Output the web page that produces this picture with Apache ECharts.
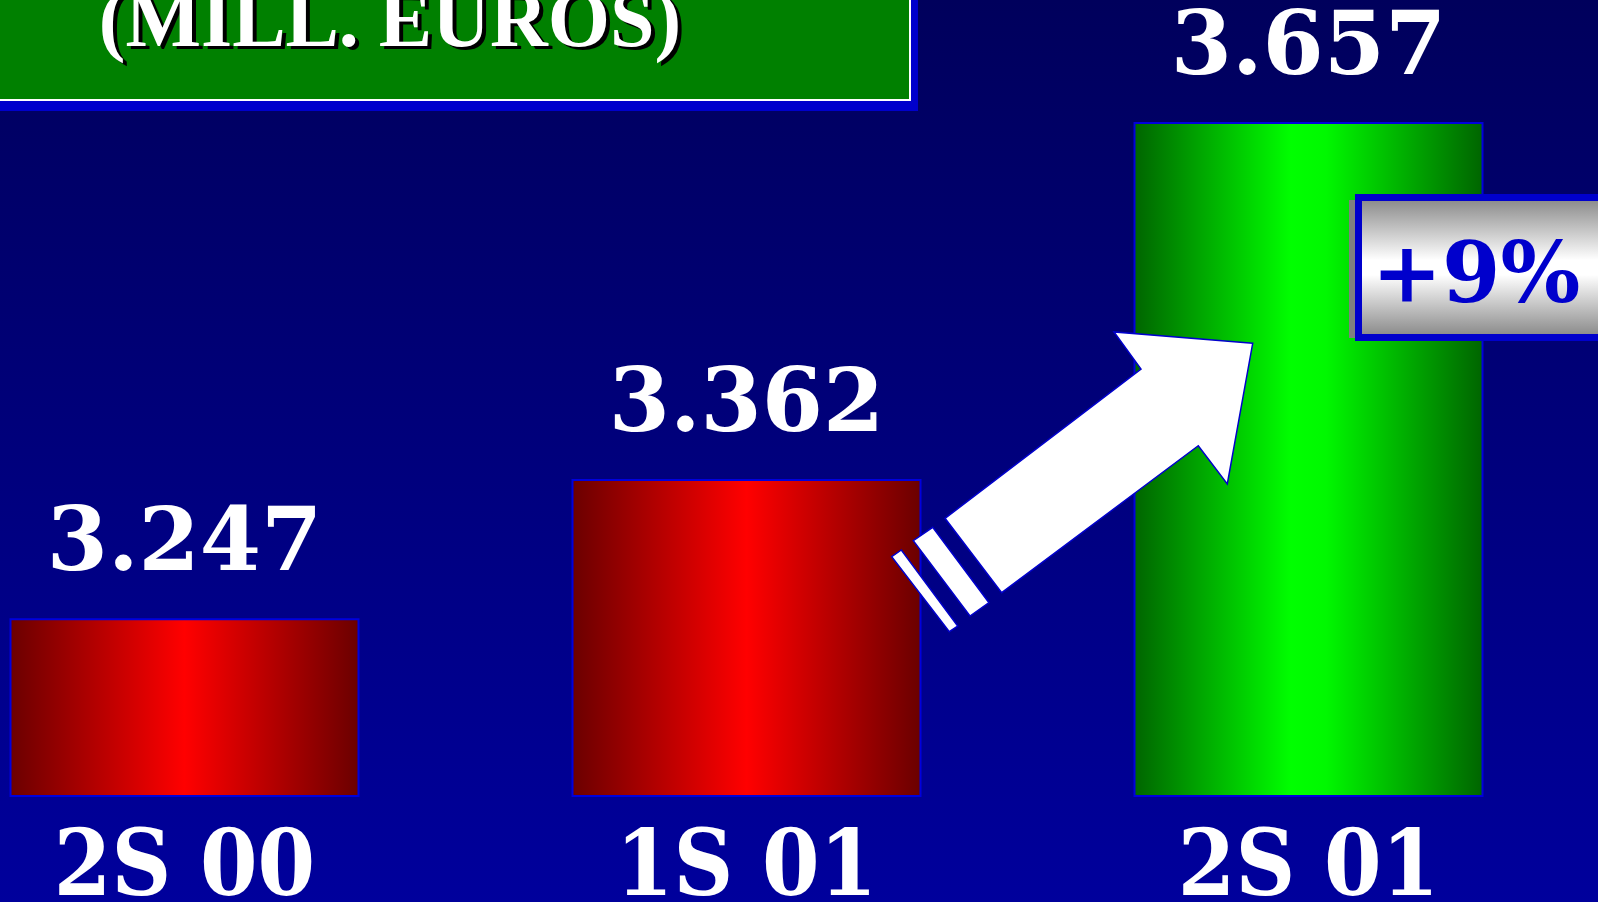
<!DOCTYPE html>
<html>
<head>
<meta charset="utf-8">
<script src="https://cdn.jsdelivr.net/npm/echarts@6/dist/echarts.min.js"></script>
<style>html,body{margin:0;padding:0;overflow:hidden;}#c{width:1598px;height:902px;}</style>
</head>
<body>
<div id="c"></div>
<script>
// ---- data ----
const categories = ['2S 00', '1S 01', '2S 01'];
const values = [3.247, 3.362, 3.657];
const barKinds = ['red', 'red', 'green'];
const titleText = '(MILL. EUROS)';
const changeText = '+9%';

// ---- styles ----
function hGrad(stops) {
  return new echarts.graphic.LinearGradient(0, 0, 1, 0, stops);
}
const fills = {
  red: hGrad([
    { offset: 0, color: '#6a0000' }, { offset: 0.5, color: '#ff0000' }, { offset: 1, color: '#6a0000' }
  ]),
  green: hGrad([
    { offset: 0, color: '#006400' }, { offset: 0.45, color: '#00ff00' },
    { offset: 0.55, color: '#00f800' }, { offset: 1, color: '#006400' }
  ])
};

const chart = echarts.init(document.getElementById('c'), null, { renderer: 'canvas' });

const option = {
  animation: false,
  backgroundColor: {
    type: 'linear', x: 0, y: 0, x2: 0, y2: 1,
    colorStops: [{ offset: 0, color: '#00005c' }, { offset: 1, color: '#00009c' }]
  },
  grid: { left: -96.5, right: 8.5, top: 70, bottom: 106, containLabel: false, outerBoundsMode: 'none' },
  xAxis: {
    type: 'category',
    data: categories,
    axisLine: { show: false },
    axisTick: { show: false },
    axisLabel: {
      color: '#ffffff',
      fontFamily: '"DejaVu Serif Condensed", "DejaVu Serif", serif',
      fontWeight: 'bold',
      fontSize: 92,
      margin: 29
    }
  },
  yAxis: { type: 'value', min: 3.1, max: 3.7, show: false, splitLine: { show: false } },
  series: [{
    type: 'bar',
    barWidth: 350,
    data: values.map((v, i) => ({
      value: v,
      itemStyle: { color: fills[barKinds[i]], borderColor: '#0000dd', borderWidth: 2 }
    })),
    label: {
      show: true,
      position: 'top',
      distance: 27,
      color: '#ffffff',
      fontFamily: '"DejaVu Serif", serif',
      fontWeight: 'bold',
      fontSize: 88,
      formatter: p => p.value.toFixed(3)
    }
  }],
  graphic: [
    // title box
    { type: 'rect', z: 20, shape: { x: -10, y: -10, width: 928, height: 121 }, style: { fill: '#0000cc' } },
    { type: 'rect', z: 21, shape: { x: -10, y: -10, width: 920, height: 110 }, style: { fill: '#008000', stroke: '#ffffff', lineWidth: 2 } },
    { type: 'text', z: 22, style: { text: titleText, x: 394, y: 28, textAlign: 'center', textVerticalAlign: 'middle', fill: '#000000', font: 'bold 80px "Liberation Serif", serif' } },
    { type: 'text', z: 23, style: { text: titleText, x: 390, y: 25, textAlign: 'center', textVerticalAlign: 'middle', fill: '#ffffff', font: 'bold 80px "Liberation Serif", serif' } },
    // arrow
    { type: 'polygon', z: 30, shape: { points: [[1252.7, 343.3], [1114, 332], [1141, 369], [945, 518.3], [1001.7, 592.7], [1198.3, 445.7], [1227.3, 484]] }, style: { fill: '#ffffff', stroke: '#0000cc', lineWidth: 1.5 } },
    { type: 'polygon', z: 30, shape: { points: [[913.3, 540.7], [932.7, 527.3], [989, 602.7], [970, 616]] }, style: { fill: '#ffffff', stroke: '#0000cc', lineWidth: 1.5 } },
    { type: 'polygon', z: 30, shape: { points: [[891.7, 556.7], [901.3, 550], [957.7, 626], [949.3, 631.7]] }, style: { fill: '#ffffff', stroke: '#0000cc', lineWidth: 1.5 } },
    // +9% box
    { type: 'rect', z: 31, shape: { x: 1349, y: 200, width: 300, height: 138 }, style: { fill: '#808080' } },
    { type: 'rect', z: 32, shape: { x: 1358.5, y: 197.5, width: 300, height: 140 }, style: {
        fill: new echarts.graphic.LinearGradient(0, 0, 0, 1, [
          { offset: 0, color: '#808080' }, { offset: 0.45, color: '#ffffff' },
          { offset: 0.55, color: '#ffffff' }, { offset: 1, color: '#808080' }
        ]),
        stroke: '#0000cc', lineWidth: 7 } },
    { type: 'text', z: 33, style: { text: changeText, x: 1476, y: 280, textAlign: 'center', textVerticalAlign: 'middle', fill: '#0000cc', font: 'bold 84px "DejaVu Serif", serif' } }
  ]
};
chart.setOption(option);
</script>
</body>
</html>
